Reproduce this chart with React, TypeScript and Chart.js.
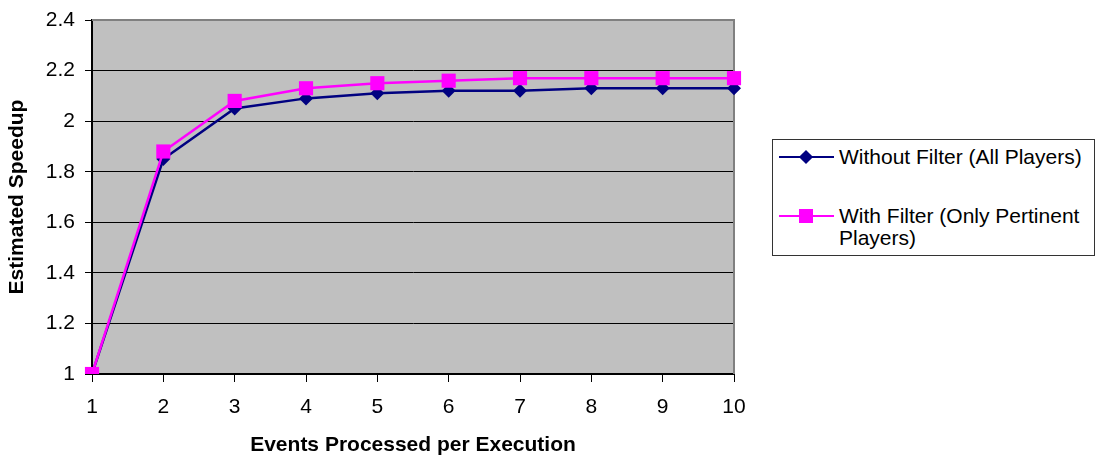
import React, { useEffect, useRef } from 'react';
import { Chart, registerables } from 'chart.js';

Chart.register(...registerables);

const categories = ['1', '2', '3', '4', '5', '6', '7', '8', '9', '10'];
const withoutFilter = [1, 1.85, 2.05, 2.09, 2.11, 2.12, 2.12, 2.13, 2.13, 2.13];
const withFilter = [1, 1.88, 2.08, 2.13, 2.15, 2.16, 2.17, 2.17, 2.17, 2.17];
const seriesNames = ['Without Filter (All Players)', 'With Filter (Only Pertinent Players)'];
const seriesColors = ['#000080', '#FF00FF'];
const yTicks = [1, 1.2, 1.4, 1.6, 1.8, 2, 2.2, 2.4];
const xTitle = 'Events Processed per Execution';
const yTitle = 'Estimated Speedup';

const FONT = '"Liberation Sans", Arial, sans-serif';

const plotBg = {
  id: 'plotBg',
  beforeDraw(chart: any) {
    const { ctx, chartArea } = chart;
    const { left, top, right, bottom } = chartArea;
    ctx.save();
    ctx.fillStyle = '#C0C0C0';
    ctx.fillRect(left, top, right - left, bottom - top);
    ctx.restore();
  },
  beforeDatasetsDraw(chart: any) {
    const { ctx, chartArea } = chart;
    const { left, top, right, bottom } = chartArea;
    ctx.save();
    ctx.strokeStyle = '#808080';
    ctx.lineWidth = 2;
    ctx.beginPath();
    ctx.moveTo(left, top);
    ctx.lineTo(right, top);
    ctx.lineTo(right, bottom);
    ctx.stroke();
    ctx.restore();
  },
};

export default function App() {
  const ref = useRef<HTMLCanvasElement | null>(null);

  useEffect(() => {
    if (!ref.current) return;
    Chart.defaults.font.family = FONT;
    Chart.defaults.color = '#000';
    const chart = new Chart(ref.current, {
      type: 'line',
      data: {
        labels: categories,
        datasets: [
          {
            label: seriesNames[0],
            data: withoutFilter,
            borderColor: seriesColors[0],
            backgroundColor: seriesColors[0],
            borderWidth: 2.5,
            pointStyle: 'rectRot',
            pointRadius: 7,
            pointHoverRadius: 7,
            pointBorderWidth: 0,
            tension: 0,
            fill: false,
            order: 2,
          },
          {
            label: seriesNames[1],
            data: withFilter,
            borderColor: seriesColors[1],
            backgroundColor: seriesColors[1],
            borderWidth: 2.5,
            pointStyle: 'rect',
            pointRadius: 10,
            pointHoverRadius: 10,
            pointBorderWidth: 0,
            tension: 0,
            fill: false,
            order: 1,
          },
        ],
      },
      options: {
        animation: false,
        responsive: false,
        devicePixelRatio: 1,
        events: [],
        layout: { padding: { left: 0, top: 20, right: 362, bottom: 0 } },
        plugins: {
          legend: { display: false },
          tooltip: { enabled: false },
        },
        scales: {
          x: {
            type: 'category',
            offset: false,
            afterFit: (scale: any) => {
              scale.height = 84;
            },
            grid: {
              drawOnChartArea: false,
              drawTicks: true,
              tickLength: 8,
              color: '#000',
            },
            border: { color: '#000', width: 2 },
            ticks: {
              padding: 13,
              maxRotation: 0,
              autoSkip: false,
              font: { size: 21 },
              color: '#000',
            },
            title: {
              display: true,
              text: xTitle,
              font: { size: 21, weight: 'bold' },
              color: '#000',
              padding: { top: 0, bottom: 0 },
            },
          },
          y: {
            type: 'linear',
            min: 1,
            max: 2.4,
            afterFit: (scale: any) => {
              scale.width = 92;
              scale.paddingTop = 10;
              scale.paddingBottom = 10;
            },
            afterBuildTicks: (scale: any) => {
              scale.ticks = yTicks.map((v) => ({ value: v }));
            },
            grid: {
              color: '#000',
              lineWidth: 1,
              tickLength: 7,
            },
            border: { color: '#000', width: 2 },
            ticks: {
              padding: 10,
              font: { size: 21 },
              color: '#000',
              callback: (v: any) => String(Number(Number(v).toFixed(1))),
            },
            title: {
              display: true,
              text: yTitle,
              font: { size: 21, weight: 'bold' },
              color: '#000',
              padding: { top: 5, bottom: 0 },
            },
          },
        },
      },
      plugins: [plotBg],
    });
    return () => chart.destroy();
  }, []);

  const itemText: React.CSSProperties = {
    position: 'absolute',
    left: 66,
    fontSize: 21,
    lineHeight: '22px',
    whiteSpace: 'normal',
    width: 252,
    color: '#000',
  };

  return (
    <div style={{ position: 'absolute', left: 0, top: 0, width: 1096, height: 458, background: '#fff', fontFamily: FONT }}>
      <canvas ref={ref} width={1096} height={458} style={{ display: 'block' }} />
      <div
        style={{
          position: 'absolute',
          left: 772,
          top: 139,
          width: 323,
          height: 117,
          border: '1px solid #333',
          boxSizing: 'border-box',
          background: '#fff',
        }}
      >
        <div style={{ position: 'absolute', left: 6, top: 16, width: 55, height: 2, background: seriesColors[0] }} />
        <div
          style={{
            position: 'absolute',
            left: 28,
            top: 12,
            width: 10,
            height: 10,
            background: seriesColors[0],
            transform: 'rotate(45deg)',
          }}
        />
        <div style={{ ...itemText, top: 6 }}>{seriesNames[0]}</div>
        <div style={{ position: 'absolute', left: 6, top: 75, width: 55, height: 2, background: seriesColors[1] }} />
        <div style={{ position: 'absolute', left: 26, top: 69, width: 14, height: 14, background: seriesColors[1] }} />
        <div style={{ ...itemText, top: 65 }}>{seriesNames[1]}</div>
      </div>
    </div>
  );
}
